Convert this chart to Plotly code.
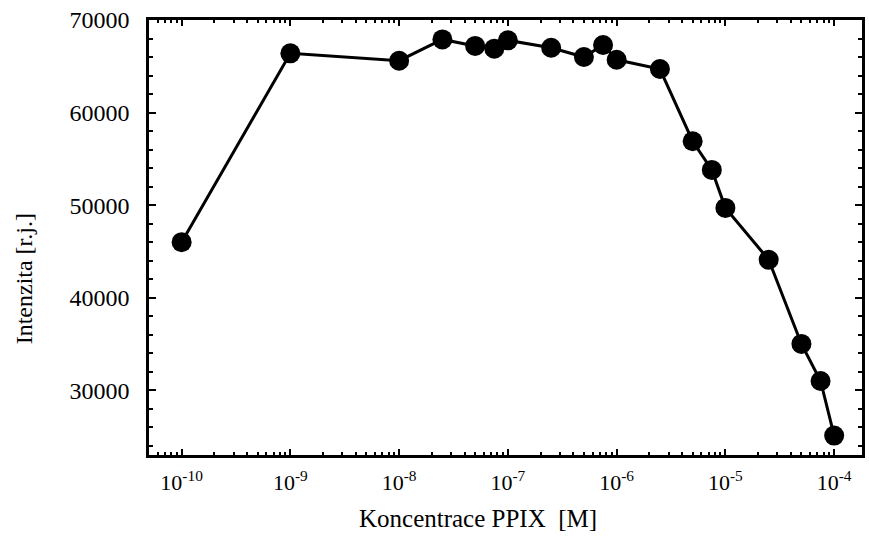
import plotly.graph_objects as go

# Data
concentration = [1e-10, 1e-9, 1e-8, 2.5e-8, 5e-8, 7.5e-8, 1e-7, 2.5e-7, 5e-7, 7.5e-7,
                 1e-6, 2.5e-6, 5e-6, 7.5e-6, 1e-5, 2.5e-5, 5e-5, 7.5e-5, 1e-4]
intensity = [46000, 66400, 65600, 67900, 67200, 66900, 67800, 67000, 66000, 67300,
             65700, 64700, 56900, 53800, 49700, 44100, 35000, 31000, 25100]

x_tick_vals = [1e-10, 1e-9, 1e-8, 1e-7, 1e-6, 1e-5, 1e-4]
x_tick_text = ["10<sup>-10</sup>", "10<sup>-9</sup>", "10<sup>-8</sup>", "10<sup>-7</sup>",
               "10<sup>-6</sup>", "10<sup>-5</sup>", "10<sup>-4</sup>"]
y_tick_vals = [30000, 40000, 50000, 60000, 70000]
y_tick_text = ["30000", "40000", "50000", "60000", "70000"]

x_title = "Koncentrace PPIX  [M]"
y_title = "Intenzita [r.j.]"

FONT = "Liberation Serif"

minor_x = [m * 10.0 ** e for e in range(-11, -3) for m in range(2, 10)]

fig = go.Figure()
fig.add_trace(go.Scatter(
    x=concentration, y=intensity, mode="lines+markers",
    line=dict(color="black", width=3),
    marker=dict(symbol="circle", size=20, color="black"),
    showlegend=False, cliponaxis=False,
))

fig.update_layout(
    width=869, height=538,
    margin=dict(l=149, r=4, t=20, b=83),
    paper_bgcolor="white", plot_bgcolor="white",
    font=dict(family=FONT, size=22, color="black"),
    xaxis=dict(
        type="log", range=[-10.3, -3.744],
        tickmode="array", tickvals=x_tick_vals, ticktext=x_tick_text,
        ticks="inside", ticklen=6, tickwidth=2, tickcolor="black",
        showline=True, linecolor="black", linewidth=2.5, mirror="allticks",
        showgrid=False, zeroline=False,
        tickfont=dict(family=FONT, size=22, color="black"),
        ticklabelstandoff=6,
        minor=dict(tickmode="array", tickvals=minor_x, ticks="inside", ticklen=3,
                   tickwidth=1.5, tickcolor="black", showgrid=False),
    ),
    yaxis=dict(
        range=[23000, 70000],
        tickmode="array", tickvals=y_tick_vals, ticktext=y_tick_text,
        ticks="inside", ticklen=7, tickwidth=2, tickcolor="black",
        showline=True, linecolor="black", linewidth=2.5, mirror="allticks",
        showgrid=False, zeroline=False,
        tickfont=dict(family=FONT, size=24, color="black"),
        ticklabelstandoff=12,
        minor=dict(dtick=2000, ticks="inside", ticklen=4, tickwidth=1.5,
                   tickcolor="black", showgrid=False),
    ),
    annotations=[
        dict(text=x_title, xref="paper", yref="paper", x=0.462, y=-0.145,
             xanchor="center", yanchor="middle", showarrow=False,
             font=dict(family=FONT, size=25, color="black")),
        dict(text=y_title, xref="paper", yref="paper", x=-0.176, y=0.405,
             xanchor="center", yanchor="middle", showarrow=False, textangle=-90,
             font=dict(family=FONT, size=24, color="black")),
    ],
)

fig.write_html("out.html")
